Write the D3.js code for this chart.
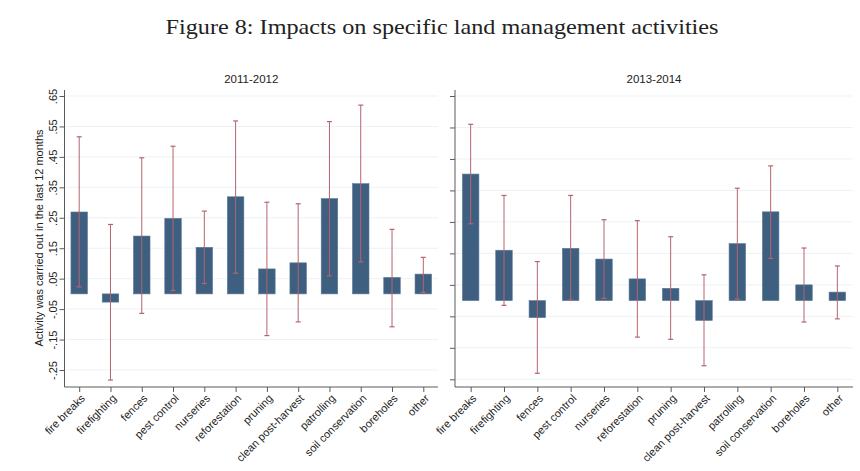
<!DOCTYPE html>
<html>
<head>
<meta charset="utf-8">
<script src="https://cdn.jsdelivr.net/npm/d3@7"></script>
<style>
  body { margin: 0; background: #fff; }
  svg { display: block; }
</style>
</head>
<body>
<div id="chart"></div>
<script>
// activities on the x axis
var activities = ["fire breaks", "firefighting", "fences", "pest control", "nurseries",
  "reforestation", "pruning", "clean post-harvest", "patrolling", "soil conservation",
  "boreholes", "other"];

// 2011-2012 panel: estimate, lower CI, upper CI
var est2011 = [0.269, -0.027, 0.190, 0.248, 0.153, 0.319, 0.082, 0.102, 0.313, 0.362, 0.054, 0.065];
var lo2011  = [0.023, -0.283, -0.064, 0.011, 0.034, 0.068, -0.137, -0.092, 0.059, 0.105, -0.108, 0.005];
var hi2011  = [0.516, 0.228, 0.447, 0.485, 0.272, 0.568, 0.301, 0.296, 0.566, 0.620, 0.212, 0.120];

// 2013-2014 panel
var est2013 = [0.402, 0.160, -0.054, 0.166, 0.132, 0.069, 0.039, -0.063, 0.181, 0.282, 0.050, 0.027];
var lo2013  = [0.244, -0.015, -0.231, 0.002, 0.007, -0.116, -0.123, -0.207, 0.005, 0.134, -0.068, -0.058];
var hi2013  = [0.560, 0.334, 0.124, 0.334, 0.257, 0.254, 0.203, 0.082, 0.357, 0.428, 0.167, 0.110];

// y ticks (same values in both panels)
var yTicks = [0.65, 0.55, 0.45, 0.35, 0.25, 0.15, 0.05, -0.05, -0.15, -0.25];
var yTickLabels = [".65", ".55", ".45", ".35", ".25", ".15", ".05", "-.05", "-.15", "-.25"];

var W = 860, H = 471;
var barColor = "#3e5f80", ciColor = "#b5646f", axisColor = "#5a5a5a", gridColor = "#edf2f4";

var svg = d3.select("#chart").append("svg")
  .attr("width", W)
  .attr("height", H)
  .style("font-family", "'Liberation Sans', Arial, sans-serif");

//Figure title
svg.append("text")
  .attr("x", 442)
  .attr("y", 34)
  .attr("text-anchor", "middle")
  .attr("textLength", 553)
  .attr("lengthAdjust", "spacingAndGlyphs")
  .style("font-family", "'Liberation Serif', 'DejaVu Serif', serif")
  .style("font-size", "21px")
  .style("fill", "#222")
  .text("Figure 8: Impacts on specific land management activities");

//Y axis title
svg.append("text")
  .attr("transform", "translate(43,238) rotate(-90)")
  .attr("text-anchor", "middle")
  .style("font-size", "11px")
  .style("fill", "#222")
  .text("Activity was carried out in the last 12 months");

function drawPanel(opts) {
  var g = svg.append("g");
  var x = d3.scalePoint().domain(activities).range([opts.left, opts.right]).padding(0.47);
  var y = d3.scaleLinear().domain([0.65, -0.25]).range([96, opts.yBottomTick]);
  var yBottom = 387, yTop = 90;

  // gridlines
  g.selectAll(".grid").data(yTicks).enter().append("line")
    .attr("x1", opts.left + 1).attr("x2", opts.right)
    .attr("y1", function(d) { return y(d); })
    .attr("y2", function(d) { return y(d); })
    .style("stroke", gridColor)
    .style("stroke-width", 1);

  // bars
  var bw = 16.5;
  g.selectAll(".bar").data(opts.est).enter().append("rect")
    .attr("x", function(d, i) { return x(activities[i]) - bw / 2; })
    .attr("y", function(d) { return Math.min(y(d), y(0)); })
    .attr("width", bw)
    .attr("height", function(d) { return Math.abs(y(d) - y(0)); })
    .style("fill", barColor)
    .style("stroke", "#5a7896")
    .style("stroke-width", 0.6);

  // error bars
  var cw = 2.5;
  activities.forEach(function(a, i) {
    var cx = x(a);
    g.append("line")
      .attr("x1", cx).attr("x2", cx)
      .attr("y1", y(opts.lo[i])).attr("y2", y(opts.hi[i]))
      .style("stroke", ciColor).style("stroke-width", 1);
    [opts.lo[i], opts.hi[i]].forEach(function(v) {
      g.append("line")
        .attr("x1", cx - cw).attr("x2", cx + cw)
        .attr("y1", y(v)).attr("y2", y(v))
        .style("stroke", ciColor).style("stroke-width", 1.2);
    });
  });

  // y axis
  var yAxis = d3.axisLeft(y).tickValues(yTicks).tickSize(5)
    .tickFormat(function(d, i) { return opts.showLabels ? yTickLabels[i] : ""; });
  var ya = g.append("g").attr("transform", "translate(" + opts.left + ",0)").call(yAxis);
  ya.select(".domain").attr("d", "M0," + yTop + "V" + yBottom);
  ya.selectAll("line").style("stroke", axisColor);
  ya.select(".domain").style("stroke", axisColor);
  ya.selectAll("text")
    .attr("transform", "translate(-8,0) rotate(-90)")
    .attr("x", 0).attr("y", 0).attr("dy", "0")
    .attr("text-anchor", "middle")
    .style("font-size", "11px")
    .style("fill", "#222")
    .style("font-family", "'Liberation Sans', Arial, sans-serif");

  // x axis
  var xAxis = d3.axisBottom(x).tickSize(5);
  var xa = g.append("g").attr("transform", "translate(0," + yBottom + ")").call(xAxis);
  xa.select(".domain").attr("d", "M" + opts.left + ",0H" + opts.right).style("stroke", axisColor);
  xa.selectAll("line").style("stroke", axisColor);
  xa.selectAll("text")
    .attr("y", 0).attr("x", 0).attr("dy", 0)
    .attr("transform", "translate(6,12) rotate(-45)")
    .attr("text-anchor", "end")
    .style("font-size", "11px")
    .style("fill", "#222")
    .style("font-family", "'Liberation Sans', Arial, sans-serif");

  // panel title
  g.append("text")
    .attr("x", (opts.left + opts.right) / 2)
    .attr("y", 83)
    .attr("text-anchor", "middle")
    .style("font-size", "11.5px")
    .style("fill", "#222")
    .text(opts.title);
}

drawPanel({ title: "2011-2012", left: 64.5, right: 438, yBottomTick: 370,
  est: est2011, lo: lo2011, hi: hi2011, showLabels: true });
drawPanel({ title: "2013-2014", left: 455, right: 853, yBottomTick: 379.3,
  est: est2013, lo: lo2013, hi: hi2013, showLabels: false });
</script>
</body>
</html>
